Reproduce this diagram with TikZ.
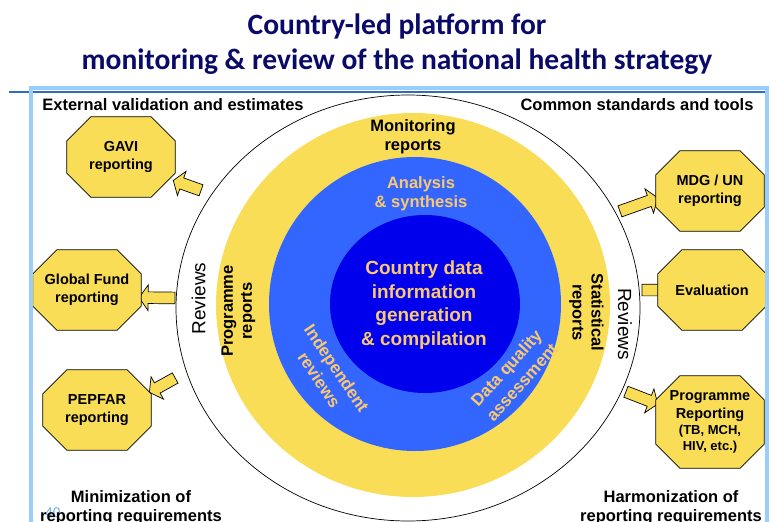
\documentclass[tikz,border=0pt]{standalone}
\usepackage{fontspec}
\usepackage{tikz}
\setmainfont{Liberation Sans}
\newfontfamily\headfont{Carlito}
\usetikzlibrary{positioning}
\usetikzlibrary{calc}
\usetikzlibrary{backgrounds}
\usetikzlibrary{shapes.arrows}
\definecolor{headnavy}{RGB}{10,10,105}
\definecolor{ringyellow}{RGB}{249,221,86}
\definecolor{ringblue}{RGB}{51,102,255}
\definecolor{coreblue}{RGB}{0,0,236}
\definecolor{paleorange}{RGB}{250,200,110}
\definecolor{framelight}{RGB}{153,204,255}
\definecolor{framedark}{RGB}{45,110,185}
\definecolor{pagenumblue}{RGB}{110,170,230}
\newcommand{\boxsmall}{\fontsize{13}{15}\selectfont}
\tikzset{headtext/.style = {inner sep=0pt, text=headnavy,
                            font=\headfont\fontsize{29.5}{35}\selectfont\bfseries}}
\tikzset{labeltext/.style = {align=center, inner sep=0pt,
                             font=\fontsize{16.5}{19}\selectfont\bfseries}}
\tikzset{slanttext/.style = {align=center, inner sep=0pt, text=paleorange,
                             font=\fontsize{17}{21}\selectfont\bfseries}}
\tikzset{coretext/.style = {align=center, inner sep=0pt, text=paleorange,
                            font=\fontsize{19}{23.5}\selectfont\bfseries}}
\tikzset{revtext/.style = {inner sep=0pt, font=\fontsize{19}{22}\selectfont}}
\tikzset{octbox/.style = {rectangle, inner sep=0pt,
                          minimum width=108pt, minimum height=80pt,
                          align=center,
                          font=\fontsize{14.5}{17.5}\selectfont\bfseries}}
\tikzset{octline/.style = {draw=black, line width=0.7pt, fill=ringyellow}}
\tikzset{yarrow/.style = {single arrow, draw, line width=0.7pt, fill=ringyellow,
                          inner sep=5.5pt, single arrow head extend=7pt,
                          single arrow tip angle=110}}
\tikzset{blockto/.style = {to path={let \p1 = ($(\tikztotarget) - (\tikztostart)$),
                                        \n1 = {atan2(\y1, \x1)},
                                        \n2 = {veclen(\x1, \y1)} in
                           node [yarrow, minimum height=\n2, rotate=\n1] (#1)
                             at ($(\tikztostart)!0.5!(\tikztotarget)$) {}}}}

\begin{document}
\begin{tikzpicture}[x=1pt, y=-1pt]
  \useasboundingbox (0, 0) rectangle (771, 522);
  \clip (0, 0) rectangle (771, 522);

  \node [headtext, anchor=base] (headtop) at (397, 34) {Country-led platform for};
  \node [headtext, anchor=base] (headbot) at (397, 69) {monitoring \& review of the national health strategy};

  \draw [framedark, line width=1.5pt] (9, 92) -- (767, 92);
  \draw [framelight, line width=3.5pt] (31, 530) -- (31, 88) -- (767, 88) -- (767, 530);

  % rings
  \draw [fill=white, line width=0.7pt] (408, 308) ellipse [x radius=232, y radius=213];
  \fill [ringyellow] (413, 305) ellipse [x radius=197, y radius=192];
  \fill [ringblue] (415, 304) ellipse [x radius=146, y radius=147];
  \fill [coreblue] (425, 304) ellipse [x radius=95, y radius=89];

  \node [labeltext] (monrep) at (413, 137) {Monitoring\\reports};
  \node [labeltext, text=paleorange] (anasyn) at (421, 194) {Analysis\\\& synthesis};
  \node [coretext] (core) at (424, 305) {Country data\\information\\generation\\\& compilation};
  \node [labeltext, rotate=90] (progrep) at (238.5, 311) {Programme\\reports};
  \node [labeltext, rotate=-90] (statrep) at (586.5, 312.5) {Statistical\\reports};
  \node [revtext, rotate=90] (revleft) at (198.5, 298.5) {Reviews};
  \node [revtext, rotate=-90] (revright) at (625, 324) {Reviews};
  \node [slanttext, rotate=-56] (indrev) at (328, 374) {Independent\\reviews};
  \node [slanttext, rotate=48] (dqa) at (514, 375) {Data quality\\assessment};

  % reporting boxes
  \node [octbox] (gavi) at (121, 157) {GAVI\\reporting};
  \node [octbox] (gfund) at (87, 290) {Global Fund\\reporting};
  \node [octbox] (pepfar) at (97, 410) {PEPFAR\\reporting};
  \node [octbox] (mdgun) at (710, 191) {MDG / UN\\reporting};
  \node [octbox] (evaluation) at (712, 290) {Evaluation};
  \node [octbox, minimum height=92pt] (progrpt) at (710, 422)
    {Programme\\Reporting\\[-1pt]{\boxsmall (TB, MCH,}\\[-2pt]{\boxsmall HIV, etc.)}};

  \coordinate (gavitail) at (203, 191);
  \coordinate (gfundtail) at (177, 298);
  \coordinate (pepfartail) at (177, 377);
  \coordinate (mdguntail) at (618, 212);
  \coordinate (evaltail) at (640, 290);
  \coordinate (evaltip) at ($(evaluation.west) + (8, 0)$);
  \coordinate (progrpttail) at (624, 391);

  \begin{scope}[on background layer]
    \path (gavitail) to [blockto=gaviarrow] (gavi.-24);
    \path (gfundtail) to [blockto=gfundarrow] (gfund.-8);
    \path (pepfartail) to [blockto=pepfararrow] (pepfar.19);
    \path (mdguntail) to [blockto=mdgunarrow] (mdgun.188);
    \path (evaltail) to [blockto=evalarrow] (evaltip);
    \path (progrpttail) to [blockto=progrptarrow] (progrpt.161);

    \foreach \bx in {gavi, gfund, pepfar, mdgun, evaluation, progrpt}
      \draw [octline] ($(\bx.north west) + (24, 0)$) -- ($(\bx.north east) + (-24, 0)$)
        -- ($(\bx.north east) + (0, 24)$) -- ($(\bx.south east) + (0, -24)$)
        -- ($(\bx.south east) + (-24, 0)$) -- ($(\bx.south west) + (24, 0)$)
        -- ($(\bx.south west) + (0, -24)$) -- ($(\bx.north west) + (0, 24)$) -- cycle;
  \end{scope}

  \node [labeltext] (extval) at (173, 105) {External validation and estimates};
  \node [labeltext] (comstd) at (637, 105) {Common standards and tools};
  \node [text=pagenumblue, font=\fontsize{14}{16}\selectfont] (pagenum) at (53, 513) {40};
  \node [labeltext] (minreq) at (131, 507.5) {Minimization of\\reporting requirements};
  \node [labeltext] (harmreq) at (671, 507.5) {Harmonization of\\reporting requirements};
\end{tikzpicture}
\end{document}
